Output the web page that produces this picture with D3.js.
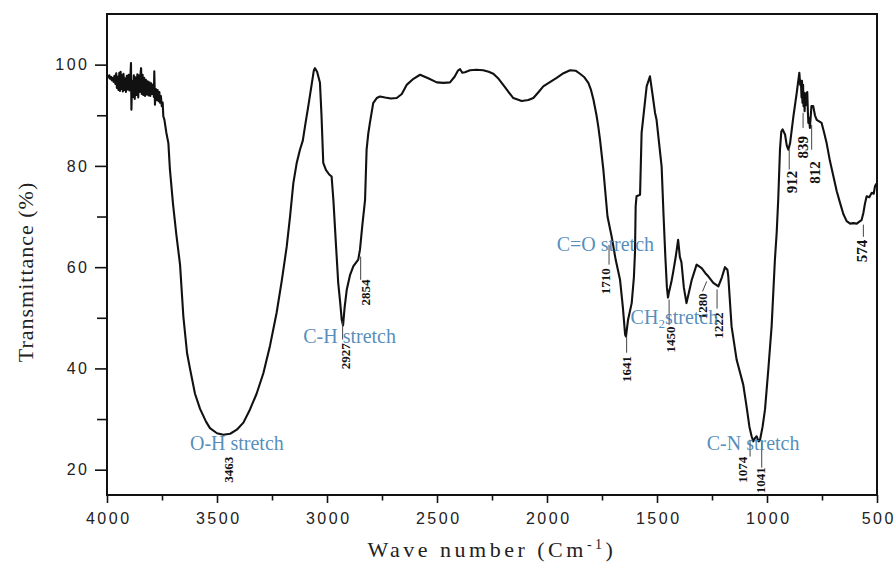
<!DOCTYPE html>
<html>
<head>
<meta charset="utf-8">
<script src="https://cdn.jsdelivr.net/npm/d3@7"></script>
<style>
  html, body { margin: 0; padding: 0; background: #fff; }
  svg { display: block; }
</style>
</head>
<body>
<div id="chart"></div>
<script>
// FTIR spectrum: [wavenumber (cm-1), transmittance (%)]
const spectrum = [
  // noisy band at the high end
  [4000, 97.7], [3998, 97.8], [3994, 97.5], [3990, 97.9], [3986, 97.2], [3982, 97.6],
  [3978, 96.9], [3974, 97.4], [3970, 96.6], [3966, 97.8], [3962, 96.2], [3958, 98.3],
  [3955, 95.4], [3951, 97.6], [3948, 95.0], [3944, 98.4], [3941, 94.8], [3938, 98.6],
  [3935, 95.2], [3931, 97.9], [3928, 94.7], [3925, 98.2], [3921, 95.0], [3918, 97.3],
  [3914, 94.6], [3910, 97.8], [3906, 95.1], [3902, 98.0], [3898, 94.9], [3894, 97.2],
  [3891, 100.3], [3889, 91.1], [3886, 96.8], [3882, 93.6], [3878, 97.9], [3874, 93.2],
  [3870, 97.5], [3866, 94.0], [3862, 98.1], [3858, 93.5], [3855, 97.9], [3851, 94.6],
  [3847, 98.5], [3845, 99.3], [3842, 94.2], [3838, 98.0], [3835, 94.0], [3831, 97.4],
  [3827, 93.8], [3823, 97.0], [3819, 94.1], [3815, 96.7], [3811, 93.9], [3807, 96.5],
  [3803, 93.8], [3799, 96.3], [3795, 94.2], [3791, 96.0], [3787, 93.6], [3785, 98.7],
  [3782, 92.1], [3778, 95.2], [3774, 93.0], [3770, 95.0], [3766, 92.8], [3762, 94.6],
  [3759, 92.5], [3755, 93.8], [3751, 91.8], [3747, 92.5], [3744, 89.8], [3739, 89.1],
  [3730, 86.5], [3721, 84.5], [3714, 79.3],
  // O-H band
  [3700, 72.5], [3685, 66.5], [3668, 60.5], [3653, 50.3], [3636, 43.0], [3623, 40.0],
  [3600, 35.0], [3577, 32.0], [3550, 29.5], [3532, 28.2], [3500, 27.2], [3471, 26.9],
  [3440, 27.1], [3410, 27.9], [3380, 29.3], [3350, 31.9], [3320, 35.0], [3289, 39.1],
  [3259, 44.5], [3229, 51.0], [3205, 57.5], [3183, 64.1], [3168, 70.0], [3153, 76.6],
  [3138, 80.5], [3123, 83.2], [3110, 85.0], [3100, 87.8], [3085, 91.8], [3070, 96.0],
  [3060, 98.8], [3055, 99.3], [3045, 98.6], [3032, 96.4], [3025, 90.0], [3017, 80.6],
  [3005, 79.2], [2990, 78.3], [2979, 77.9], [2971, 73.3], [2960, 65.0], [2949, 56.9],
  [2940, 53.0], [2933, 49.6], [2927, 48.5], [2920, 52.0], [2910, 55.6], [2895, 58.5],
  [2880, 60.2], [2858, 61.5], [2850, 63.5], [2840, 68.0], [2827, 73.3], [2820, 83.2],
  [2812, 86.5], [2805, 88.5], [2790, 92.4], [2774, 93.4], [2759, 93.7], [2736, 93.5],
  [2710, 93.3], [2683, 93.4], [2660, 94.2], [2638, 96.0], [2607, 97.2], [2577, 98.0],
  [2540, 97.3], [2501, 96.5], [2470, 96.4], [2441, 96.5], [2420, 97.6], [2405, 98.8],
  [2395, 99.1], [2385, 98.4], [2373, 98.5], [2350, 98.9], [2320, 99.0], [2290, 98.9],
  [2265, 98.6], [2244, 98.2], [2220, 97.2], [2199, 96.0], [2175, 94.6], [2153, 93.4],
  [2115, 92.8], [2085, 93.0], [2062, 93.4], [2040, 94.5], [2017, 95.7], [1985, 96.6],
  [1956, 97.4], [1925, 98.3], [1895, 98.9], [1870, 98.8], [1850, 98.2], [1830, 97.5],
  [1812, 96.4], [1800, 95.0], [1789, 93.1], [1775, 90.0], [1767, 87.8], [1759, 85.2],
  [1744, 79.3], [1725, 70.0], [1706, 66.0], [1688, 61.5], [1668, 57.5], [1655, 52.0],
  [1645, 46.7], [1641, 46.3], [1632, 49.5], [1615, 52.9], [1605, 58.0], [1600, 63.0],
  [1597, 72.0], [1593, 74.0], [1577, 74.3], [1570, 86.5], [1547, 95.7], [1532, 97.7],
  [1520, 94.0], [1509, 90.5], [1502, 89.1], [1479, 79.9], [1470, 70.0], [1462, 62.0],
  [1455, 56.0], [1450, 54.0], [1446, 55.0], [1435, 57.0], [1427, 58.9], [1415, 62.0],
  [1404, 65.4], [1396, 62.0], [1389, 61.0], [1378, 56.0], [1366, 52.9], [1355, 55.0],
  [1342, 57.5], [1320, 60.5], [1297, 59.8], [1280, 58.8], [1267, 58.2], [1244, 56.9],
  [1221, 56.2], [1205, 58.0], [1191, 60.0], [1180, 59.5], [1176, 58.2], [1161, 48.3],
  [1138, 41.7], [1108, 36.8], [1093, 32.5], [1080, 28.5], [1070, 26.6], [1062, 25.6],
  [1055, 26.2], [1047, 26.6], [1038, 25.6], [1032, 25.8], [1020, 28.5], [1009, 31.9],
  [994, 39.8], [979, 48.3], [964, 61.5], [956, 66.8], [949, 73.3], [941, 83.2],
  [935, 86.8], [929, 87.2], [918, 86.2], [910, 84.0], [903, 83.2], [895, 84.5],
  [880, 89.8], [865, 94.4], [853, 98.4], [849, 96.0], [846, 96.8], [843, 93.5],
  [841, 96.8], [839, 92.5], [836, 96.0], [834, 91.8], [832, 94.5], [829, 90.8],
  [827, 93.5], [824, 92.0], [822, 94.4], [819, 93.0], [817, 94.6], [814, 90.5],
  [812, 88.5], [809, 89.5], [805, 87.5], [798, 91.8], [790, 91.8], [782, 90.0],
  [774, 89.1], [752, 88.5], [740, 86.5], [729, 84.5], [714, 81.0], [698, 77.9],
  [683, 75.0], [668, 72.7], [653, 70.5], [638, 69.1], [622, 68.6], [608, 68.7],
  [592, 68.6], [577, 69.1], [570, 69.3], [562, 70.7], [555, 72.5], [547, 74.0],
  [535, 73.8], [524, 74.7], [515, 74.5], [509, 76.0], [502, 76.5]
];

const xMajorTicks = [4000, 3500, 3000, 2500, 2000, 1500, 1000, 500];
const xMinorTicks = [3750, 3250, 2750, 2250, 1750, 1250, 750];
const yMajorTicks = [20, 40, 60, 80, 100];
const yMinorTicks = [30, 50, 70, 90];

// peak labels: text, label centre (wavenumber, T), leader line [w1, T1, w2, T2]
const peakText = ["3463", "2927", "2854", "1710", "1641", "1450", "1280", "1222", "1074", "1041", "912", "839", "812", "574"];
const peakAt = [[3450, 20.0], [2914, 42.4], [2827, 55.0], [1736, 57.2], [1641, 39.9], [1441, 45.7],
  [1295, 52.3], [1223, 48.5], [1110, 20.0], [1029, 17.9], [888, 76.8], [839, 83.7], [784, 78.7], [568, 63.2]];
const peakLeader = [null, [2929, 49.3, 2929, 45.7], [2847, 62.1, 2847, 57.5], [1718, 64.4, 1718, 60.5],
  [1638, 46.3, 1638, 43.1], [1445, 53.6, 1445, 48.6], [1274, 57.2, 1293, 55.2], [1227, 55.6, 1227, 51.8],
  [1077, 25.9, 1077, 22.6], [1024, 25.5, 1024, 20.4], [899, 83.2, 899, 79.3], [836, 90.5, 836, 87.5],
  [797, 88.1, 797, 83.2], [562, 68.4, 562, 66.0]];

// band assignments: text start (wavenumber, baseline T)
const bandText = ["O-H stretch", "C-H stretch", "C=O stretch", "CH|2|stretch", "C-N stretch"];
const bandAt = [[3623, 23.8], [3108, 45.0], [1956, 63.1], [1620, 48.7], [1274, 23.8]];

const width = 896;
const height = 575;
const plotLeft = 107, plotRight = 877, plotTop = 14, plotBottom = 495;

const svg = d3.select("#chart").append("svg")
  .attr("width", width)
  .attr("height", height);

const x = d3.scaleLinear().domain([4000, 500]).range([plotLeft, plotRight]);
const y = d3.scaleLinear().domain([15, 110]).range([plotBottom, plotTop]);

const tickFont = "'Liberation Sans', Arial, sans-serif";
const serif = "'Liberation Serif', 'Times New Roman', serif";

// axes
function styleAxis(g) {
  g.select(".domain").remove();
  g.selectAll(".tick line").attr("stroke", "#111").attr("stroke-width", 1.6);
  g.selectAll(".tick text")
    .attr("font-family", tickFont)
    .attr("font-size", 16)
    .attr("letter-spacing", "2.5px")
    .attr("fill", "#222");
}

svg.append("g")
  .attr("transform", `translate(0,${plotBottom})`)
  .call(d3.axisBottom(x).tickValues(xMajorTicks).tickSize(8).tickPadding(10).tickFormat(d3.format("d")))
  .call(styleAxis)
  .selectAll(".tick text").attr("dx", "1.25px");

svg.append("g")
  .attr("transform", `translate(0,${plotBottom})`)
  .call(d3.axisBottom(x).tickValues(xMinorTicks).tickSize(5.5).tickFormat(""))
  .call(styleAxis);

svg.append("g")
  .attr("transform", `translate(${plotLeft},0)`)
  .call(d3.axisLeft(y).tickValues(yMajorTicks).tickSize(12).tickPadding(5.5).tickFormat(d3.format("d")))
  .call(styleAxis);

svg.append("g")
  .attr("transform", `translate(${plotLeft},0)`)
  .call(d3.axisLeft(y).tickValues(yMinorTicks).tickSize(10).tickFormat(""))
  .call(styleAxis);

// frame
svg.append("rect")
  .attr("x", plotLeft)
  .attr("y", plotTop)
  .attr("width", plotRight - plotLeft)
  .attr("height", plotBottom - plotTop)
  .attr("fill", "none")
  .attr("stroke", "#111")
  .attr("stroke-width", 2);

// spectrum
const line = d3.line()
  .x(d => x(d[0]))
  .y(d => y(d[1]));

svg.append("path")
  .datum(spectrum)
  .attr("fill", "none")
  .attr("stroke", "#111")
  .attr("stroke-width", 2.1)
  .attr("stroke-linejoin", "round")
  .attr("d", line);

// leader lines
svg.append("g")
  .attr("stroke", "#444")
  .attr("stroke-width", 1)
  .selectAll("line")
  .data(peakLeader.filter(d => d))
  .join("line")
  .attr("x1", d => x(d[0]))
  .attr("y1", d => y(d[1]))
  .attr("x2", d => x(d[2]))
  .attr("y2", d => y(d[3]));

// peak numbers, rotated
svg.append("g")
  .selectAll("text")
  .data(peakText)
  .join("text")
  .attr("transform", (d, i) => `translate(${x(peakAt[i][0])},${y(peakAt[i][1])}) rotate(-90)`)
  .attr("text-anchor", "middle")
  .attr("dy", "0.35em")
  .attr("font-family", serif)
  .attr("font-weight", "bold")
  .attr("font-size", d => (d.length === 3 ? 15 : 13))
  .attr("fill", "#111")
  .text(d => d);

// band assignments in blue
const bands = svg.append("g")
  .selectAll("text")
  .data(bandText)
  .join("text")
  .attr("x", (d, i) => x(bandAt[i][0]))
  .attr("y", (d, i) => y(bandAt[i][1]))
  .attr("font-family", serif)
  .attr("font-size", 20)
  .attr("fill", "#3f7fb3")
  .attr("fill-opacity", 0.9);

bands.each(function (d) {
  const parts = d.split("|");
  const t = d3.select(this);
  if (parts.length === 1) {
    t.text(d);
  } else {
    t.append("tspan").text(parts[0]);
    t.append("tspan").attr("font-size", 13).attr("dy", "0.3em").text(parts[1]);
    t.append("tspan").attr("dy", "-0.2em").text(parts[2]);
  }
});

// axis titles
const xTitle = svg.append("text")
  .attr("x", (plotLeft + plotRight) / 2)
  .attr("y", 557)
  .attr("text-anchor", "middle")
  .attr("font-family", serif)
  .attr("font-size", 22)
  .attr("letter-spacing", "3.5px")
  .attr("fill", "#222");
xTitle.append("tspan").text("Wave number (Cm");
xTitle.append("tspan").attr("font-size", 14).attr("dy", "-0.55em").text("-1");
xTitle.append("tspan").attr("dy", "0.35em").text(")");

svg.append("text")
  .attr("transform", `translate(33,272) rotate(-90)`)
  .attr("text-anchor", "middle")
  .attr("font-family", serif)
  .attr("font-size", 22)
  .attr("letter-spacing", "1px")
  .attr("fill", "#222")
  .text("Transmittance (%)");
</script>
</body>
</html>
